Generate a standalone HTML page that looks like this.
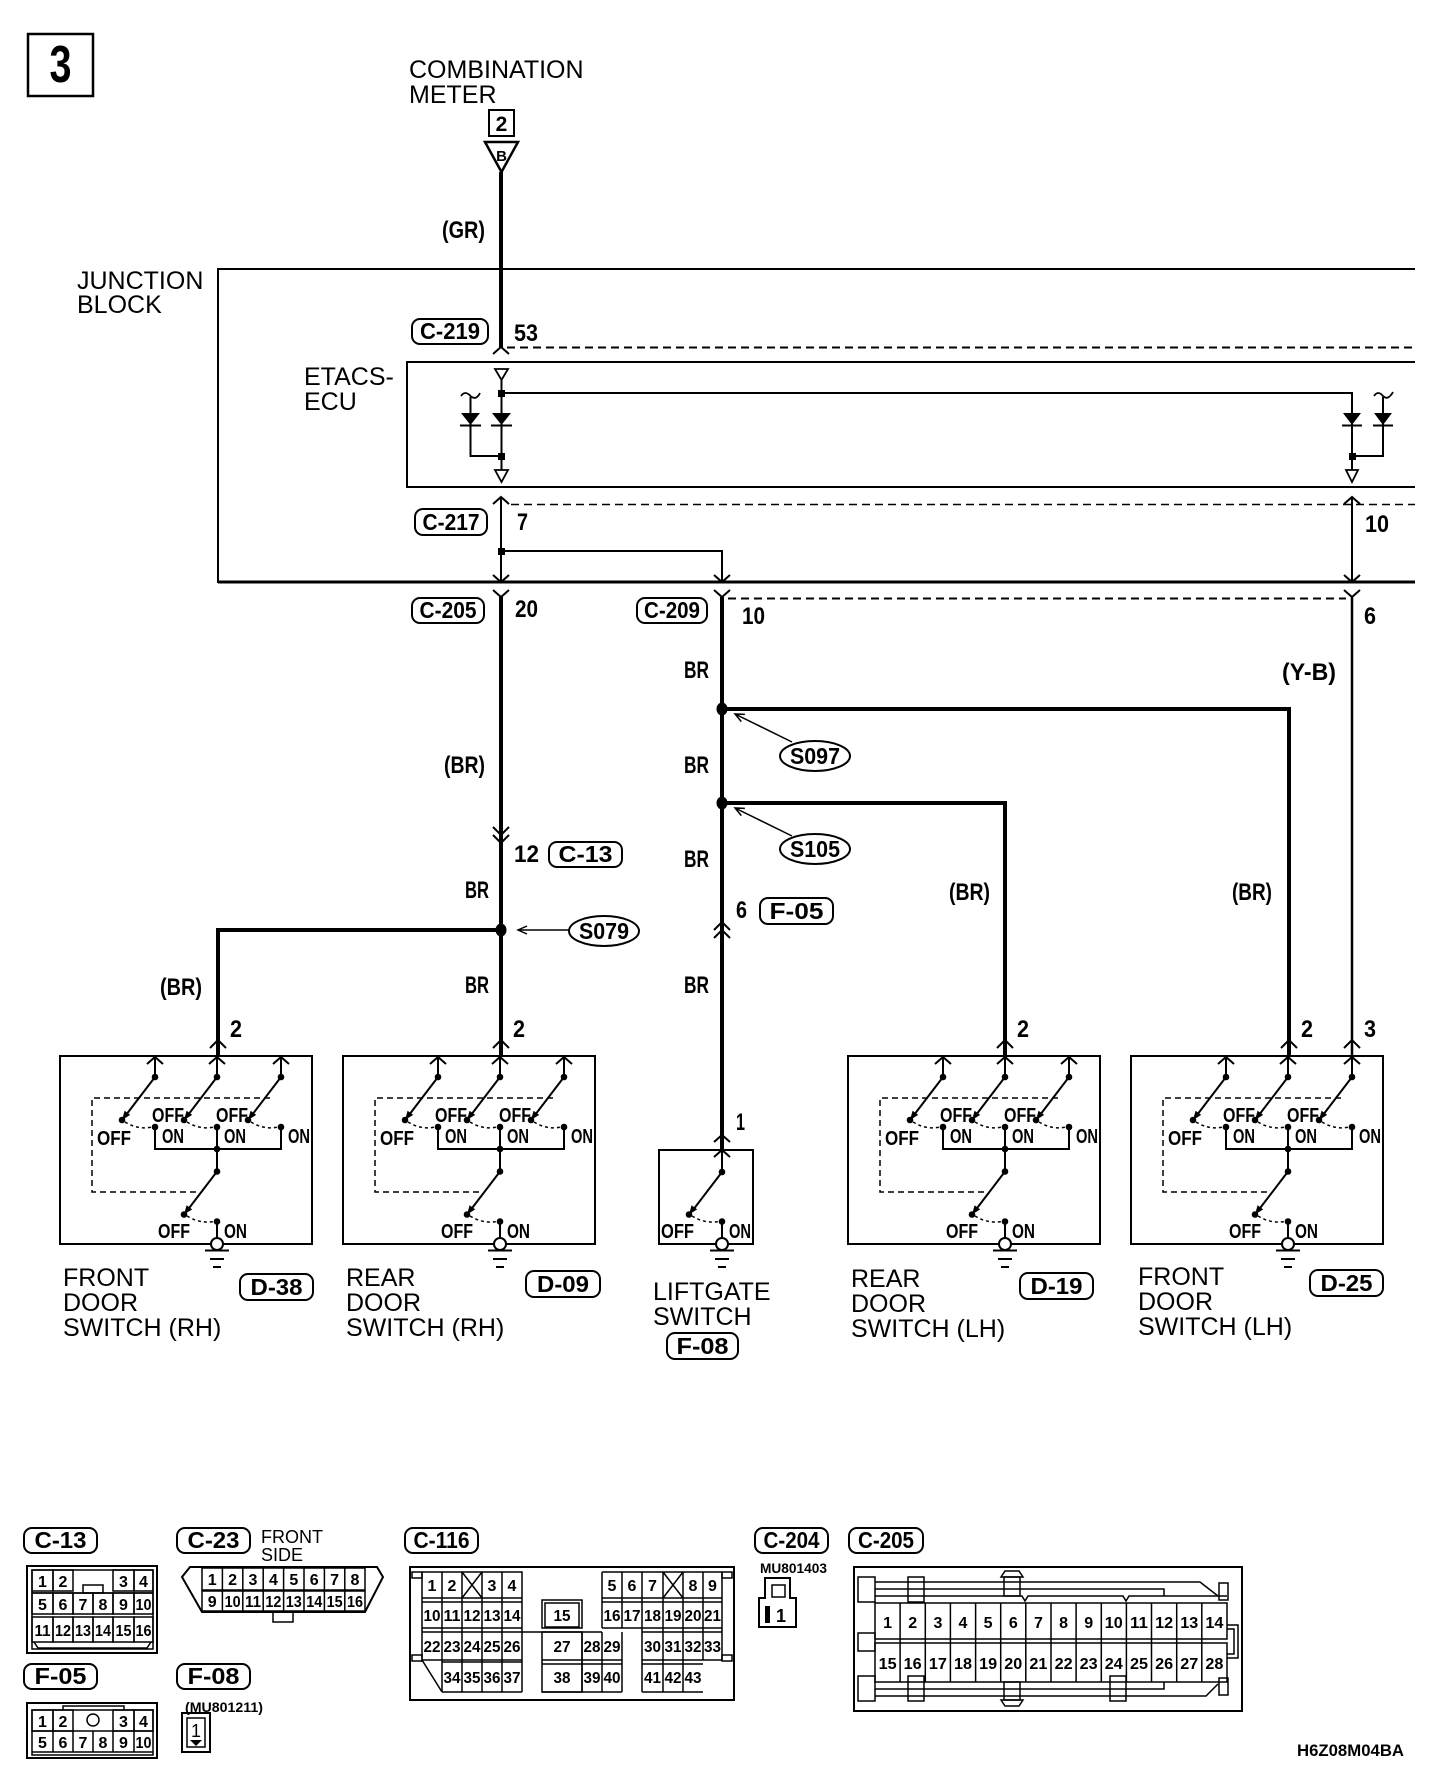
<!DOCTYPE html>
<html><head><meta charset="utf-8">
<style>
html,body{margin:0;padding:0;background:#fff;}
svg{display:block;}
text{font-family:"Liberation Sans",Arial,sans-serif;fill:#000;}
.r{font-size:25px;}
.b{font-weight:bold;font-size:24px;}
.p{font-weight:bold;font-size:23px;}
.sw{font-weight:bold;font-size:20px;}
.n{font-weight:bold;font-size:16px;}
.s{stroke:#000;fill:none;}
</style></head>
<body>
<svg width="1440" height="1778" viewBox="0 0 1440 1778" xmlns="http://www.w3.org/2000/svg">
<rect x="0" y="0" width="1440" height="1778" fill="#fff"/>

<!-- Title box -->
<rect x="28" y="34" width="65" height="62" class="s" stroke-width="2.5"/>
<text x="60.5" y="82" font-size="52" font-weight="bold" text-anchor="middle" textLength="22" lengthAdjust="spacingAndGlyphs">3</text>

<!-- Combination meter -->
<text class="r" x="409" y="78">COMBINATION</text>
<text class="r" x="409" y="103">METER</text>
<rect x="489" y="110" width="25" height="26" class="s" stroke-width="2"/>
<text x="501.5" y="131" font-size="21" font-weight="bold" text-anchor="middle">2</text>
<polygon points="485,142 518,142 501.5,172" fill="#fff" stroke="#000" stroke-width="2.5"/>
<text x="501.5" y="161" font-size="15" font-weight="bold" text-anchor="middle">B</text>
<line x1="501" y1="172" x2="501" y2="348" stroke="#000" stroke-width="4"/>
<text class="b" x="442" y="238" textLength="43" lengthAdjust="spacingAndGlyphs">(GR)</text>

<!-- Junction block -->
<text class="r" x="77" y="289">JUNCTION</text>
<text class="r" x="77" y="313">BLOCK</text>
<path d="M1415,269 H218 V582 H1415" class="s" stroke-width="2"/>
<line x1="218" y1="582" x2="1415" y2="582" stroke="#000" stroke-width="3"/>

<!-- C-219 -->
<path d="M493,354 L501,347 L509,354" class="s" stroke-width="2"/>
<line x1="507" y1="347.5" x2="1415" y2="347.5" stroke="#000" stroke-width="2" stroke-dasharray="8 5"/>
<rect x="412" y="319" width="76" height="25" rx="8" class="s" stroke-width="2"/>
<text class="p" x="450" y="339" text-anchor="middle" textLength="60" lengthAdjust="spacingAndGlyphs">C-219</text>
<text class="b" x="514" y="341" textLength="24" lengthAdjust="spacingAndGlyphs">53</text>

<!-- ETACS-ECU -->
<text class="r" x="304" y="385">ETACS-</text>
<text class="r" x="304" y="410">ECU</text>
<path d="M1415,362 H407 V487 H1415" class="s" stroke-width="2"/>
<!-- left diode pair -->
<polygon points="495,369 508,369 501.5,380" fill="#fff" stroke="#000" stroke-width="1.8"/>
<path d="M501.5,380 V470 M501.5,393 H1352 V470 M470.5,397 V456 H501.5" class="s" stroke-width="2"/>
<path d="M461,396 Q465,390 470.5,396 Q476,401 480,393" class="s" stroke-width="1.8"/>
<polygon points="492,413 511,413 501.5,425" fill="#000"/>
<line x1="491" y1="425.5" x2="512" y2="425.5" stroke="#000" stroke-width="2"/>
<polygon points="461,413 480,413 470.5,425" fill="#000"/>
<line x1="460" y1="425.5" x2="481" y2="425.5" stroke="#000" stroke-width="2"/>
<rect x="498" y="390" width="7" height="7" fill="#000"/>
<rect x="498" y="453" width="7" height="7" fill="#000"/>
<polygon points="495,470 508,470 501.5,482" fill="#fff" stroke="#000" stroke-width="1.8"/>
<!-- right diode pair -->
<path d="M1383,397 V456 H1352" class="s" stroke-width="2"/>
<path d="M1374,396 Q1378,390 1383,396 Q1388,401 1393,392" class="s" stroke-width="1.8"/>
<polygon points="1343,413 1361,413 1352,425" fill="#000"/>
<line x1="1342" y1="425.5" x2="1362" y2="425.5" stroke="#000" stroke-width="2"/>
<polygon points="1374,413 1392,413 1383,425" fill="#000"/>
<line x1="1373" y1="425.5" x2="1393" y2="425.5" stroke="#000" stroke-width="2"/>
<rect x="1349" y="453" width="7" height="7" fill="#000"/>
<polygon points="1346,470 1358,470 1352,482" fill="#fff" stroke="#000" stroke-width="1.8"/>

<!-- C-217 -->
<path d="M493,504 L501,497 L509,504 M1344,504 L1352,497 L1360,504" class="s" stroke-width="2"/>
<line x1="511" y1="504.5" x2="1415" y2="504.5" stroke="#000" stroke-width="1.6" stroke-dasharray="8 5"/>
<path d="M501,497 V582 M1352,497 V582 M501,551 H722 V582" class="s" stroke-width="2"/>
<rect x="498" y="548" width="7" height="7" fill="#000"/>
<rect x="415" y="509" width="72" height="26" rx="8" class="s" stroke-width="2"/>
<text class="p" x="451" y="530" text-anchor="middle" textLength="57" lengthAdjust="spacingAndGlyphs">C-217</text>
<text class="b" x="517" y="530" textLength="11" lengthAdjust="spacingAndGlyphs">7</text>
<text class="b" x="1365" y="532" textLength="24" lengthAdjust="spacingAndGlyphs">10</text>

<!-- JB bottom crossings -->
<path d="M493,575 L501,582 L509,575 M493,590 L501,597 L509,590
M714,575 L722,582 L730,575 M714,590 L722,597 L730,590
M1344,575 L1352,582 L1360,575 M1344,590 L1352,597 L1360,590" class="s" stroke-width="2"/>
<line x1="728" y1="598.5" x2="1346" y2="598.5" stroke="#000" stroke-width="2" stroke-dasharray="8 5"/>
<rect x="412" y="598" width="72" height="25" rx="8" class="s" stroke-width="2"/>
<text class="p" x="448" y="618" text-anchor="middle" textLength="57" lengthAdjust="spacingAndGlyphs">C-205</text>
<text class="b" x="515" y="617" textLength="23" lengthAdjust="spacingAndGlyphs">20</text>
<rect x="637" y="598" width="70" height="25" rx="8" class="s" stroke-width="2"/>
<text class="p" x="672" y="618" text-anchor="middle" textLength="56" lengthAdjust="spacingAndGlyphs">C-209</text>
<text class="b" x="742" y="624" textLength="23" lengthAdjust="spacingAndGlyphs">10</text>
<text class="b" x="1364" y="624" textLength="12" lengthAdjust="spacingAndGlyphs">6</text>

<!-- Wires outside JB -->
<path d="M501,597 V1056 M722,597 V1150 M501,930 H218 V1056 M722,709 H1289 V1056 M722,803 H1005 V1056" class="s" stroke-width="4"/>
<line x1="1352" y1="597" x2="1352" y2="1056" stroke="#000" stroke-width="2.5"/>

<!-- C-13 inline connector -->
<path d="M493,827 L501,835 L509,827 M493,835 L501,843 L509,835" class="s" stroke-width="2"/>
<text class="b" x="514" y="862" textLength="25" lengthAdjust="spacingAndGlyphs">12</text>
<rect x="549" y="842" width="73" height="25" rx="8" class="s" stroke-width="2"/>
<text class="p" x="585.5" y="862" text-anchor="middle" textLength="54" lengthAdjust="spacingAndGlyphs">C-13</text>

<!-- F-05 inline connector -->
<path d="M714,930 L722,922 L730,930 M714,938 L722,930 L730,938" class="s" stroke-width="2"/>
<text class="b" x="736" y="918" textLength="11" lengthAdjust="spacingAndGlyphs">6</text>
<rect x="760" y="898" width="73" height="26" rx="8" class="s" stroke-width="2"/>
<text class="p" x="796.5" y="919" text-anchor="middle" textLength="54" lengthAdjust="spacingAndGlyphs">F-05</text>

<!-- Splices -->
<ellipse cx="501" cy="930" rx="5.5" ry="6.5" fill="#000"/>
<ellipse cx="722" cy="709" rx="5.5" ry="6.5" fill="#000"/>
<ellipse cx="722" cy="803" rx="5.5" ry="6.5" fill="#000"/>
<path d="M569,930 H518 M527,926 L518,930 L527,934" class="s" stroke-width="1.5"/>
<ellipse cx="604" cy="931" rx="35" ry="15" class="s" stroke-width="2"/>
<text class="p" x="604" y="939" text-anchor="middle" textLength="50" lengthAdjust="spacingAndGlyphs">S079</text>
<path d="M792,742 L735,714 M744.9,714.4 L735,714 L741.3,721.6" class="s" stroke-width="1.5"/>
<ellipse cx="815" cy="756" rx="35" ry="15" class="s" stroke-width="2"/>
<text class="p" x="815" y="764" text-anchor="middle" textLength="50" lengthAdjust="spacingAndGlyphs">S097</text>
<path d="M792,836 L735,808 M744.9,808.4 L735,808 L741.3,815.6" class="s" stroke-width="1.5"/>
<ellipse cx="815" cy="849" rx="35" ry="15" class="s" stroke-width="2"/>
<text class="p" x="815" y="857" text-anchor="middle" textLength="50" lengthAdjust="spacingAndGlyphs">S105</text>

<!-- Wire colour labels -->
<text class="b" x="444" y="773" textLength="41" lengthAdjust="spacingAndGlyphs">(BR)</text>
<text class="b" x="465" y="898" textLength="24" lengthAdjust="spacingAndGlyphs">BR</text>
<text class="b" x="465" y="993" textLength="24" lengthAdjust="spacingAndGlyphs">BR</text>
<text class="b" x="160" y="995" textLength="42" lengthAdjust="spacingAndGlyphs">(BR)</text>
<text class="b" x="684" y="678" textLength="25" lengthAdjust="spacingAndGlyphs">BR</text>
<text class="b" x="684" y="773" textLength="25" lengthAdjust="spacingAndGlyphs">BR</text>
<text class="b" x="684" y="867" textLength="25" lengthAdjust="spacingAndGlyphs">BR</text>
<text class="b" x="684" y="993" textLength="25" lengthAdjust="spacingAndGlyphs">BR</text>
<text class="b" x="1282" y="680" textLength="54" lengthAdjust="spacingAndGlyphs">(Y-B)</text>
<text class="b" x="949" y="900" textLength="41" lengthAdjust="spacingAndGlyphs">(BR)</text>
<text class="b" x="1232" y="900" textLength="40" lengthAdjust="spacingAndGlyphs">(BR)</text>

<!-- pin connector chevrons & numbers -->
<path d="M210,1048 L218,1040 L226,1048 M493,1048 L501,1040 L509,1048 M997,1048 L1005,1040 L1013,1048 M1281,1048 L1289,1040 L1297,1048 M1344,1048 L1352,1040 L1360,1048 M714,1142 L722,1135 L730,1142" class="s" stroke-width="2"/>
<text class="b" x="230" y="1037" textLength="12" lengthAdjust="spacingAndGlyphs">2</text>
<text class="b" x="513" y="1037" textLength="12" lengthAdjust="spacingAndGlyphs">2</text>
<text class="b" x="1017" y="1037" textLength="12" lengthAdjust="spacingAndGlyphs">2</text>
<text class="b" x="1301" y="1037" textLength="12" lengthAdjust="spacingAndGlyphs">2</text>
<text class="b" x="1364" y="1037" textLength="12" lengthAdjust="spacingAndGlyphs">3</text>
<text class="b" x="736" y="1130" textLength="9" lengthAdjust="spacingAndGlyphs">1</text>

<!-- Door switch box 1 (FRONT RH) -->
<g transform="translate(60,0)">
<rect x="0" y="1056" width="252" height="188" class="s" stroke-width="2"/>
<path d="M87,1064 L95,1057 L103,1064 M149,1064 L157,1057 L165,1064 M213,1064 L221,1057 L229,1064 M95,1056 V1077 M157,1056 V1077 M221,1056 V1077" class="s" stroke-width="2"/>
<path d="M95,1077 L66,1115 M157,1077 L128,1115 M221,1077 L192,1115 M157,1171.5 L128,1209.5" class="s" stroke-width="2"/>
<polygon points="62,1120 70.2,1114.9 64.6,1110.7"/><polygon points="124,1120 132.2,1114.9 126.6,1110.7"/><polygon points="188,1120 196.2,1114.9 190.6,1110.7"/><polygon points="124,1214.5 132.2,1209.4 126.6,1205.2"/>
<g fill="#000"><circle cx="95" cy="1077" r="3.3"/><circle cx="157" cy="1077" r="3.3"/><circle cx="221" cy="1077" r="3.3"/><circle cx="62" cy="1120" r="3.3"/><circle cx="124" cy="1120" r="3.3"/><circle cx="188" cy="1120" r="3.3"/><circle cx="95" cy="1127" r="3.3"/><circle cx="157" cy="1127" r="3.3"/><circle cx="221" cy="1127" r="3.3"/><circle cx="157" cy="1149" r="3.3"/><circle cx="157" cy="1171.5" r="3.3"/><circle cx="124" cy="1214.5" r="3.3"/><circle cx="157" cy="1221.5" r="3.3"/></g>
<path d="M65,1122 Q78,1130 92,1127 M127,1122 Q140,1130 154,1127 M191,1122 Q204,1130 218,1127 M127,1216 Q140,1224 154,1221.5" class="s" stroke-width="1.5" stroke-dasharray="3 3"/>
<path d="M95,1127 V1149 H221 V1127 M157,1127 V1171.5 M157,1221.5 V1238" class="s" stroke-width="2"/>
<path d="M210,1098 H32 V1192 H137" class="s" stroke-width="1.5" stroke-dasharray="6 4"/>
<text class="sw" x="37" y="1145" textLength="34" lengthAdjust="spacingAndGlyphs">OFF</text>
<text class="sw" x="92" y="1122" textLength="32" lengthAdjust="spacingAndGlyphs">OFF</text>
<text class="sw" x="156" y="1122" textLength="32" lengthAdjust="spacingAndGlyphs">OFF</text>
<text class="sw" x="102" y="1143" textLength="22" lengthAdjust="spacingAndGlyphs">ON</text>
<text class="sw" x="164" y="1143" textLength="22" lengthAdjust="spacingAndGlyphs">ON</text>
<text class="sw" x="228" y="1143" textLength="22" lengthAdjust="spacingAndGlyphs">ON</text>
<text class="sw" x="98" y="1238" textLength="32" lengthAdjust="spacingAndGlyphs">OFF</text>
<text class="sw" x="164" y="1238" textLength="23" lengthAdjust="spacingAndGlyphs">ON</text>
<circle cx="157" cy="1244" r="6" fill="#fff" stroke="#000" stroke-width="2"/>
<path d="M145,1250.5 H169 M150,1259 H164 M153,1267 H161" class="s" stroke-width="2"/>
</g>

<!-- Door switch box 2 (REAR RH) -->
<g transform="translate(343,0)">
<rect x="0" y="1056" width="252" height="188" class="s" stroke-width="2"/>
<path d="M87,1064 L95,1057 L103,1064 M149,1064 L157,1057 L165,1064 M213,1064 L221,1057 L229,1064 M95,1056 V1077 M157,1056 V1077 M221,1056 V1077" class="s" stroke-width="2"/>
<path d="M95,1077 L66,1115 M157,1077 L128,1115 M221,1077 L192,1115 M157,1171.5 L128,1209.5" class="s" stroke-width="2"/>
<polygon points="62,1120 70.2,1114.9 64.6,1110.7"/><polygon points="124,1120 132.2,1114.9 126.6,1110.7"/><polygon points="188,1120 196.2,1114.9 190.6,1110.7"/><polygon points="124,1214.5 132.2,1209.4 126.6,1205.2"/>
<g fill="#000"><circle cx="95" cy="1077" r="3.3"/><circle cx="157" cy="1077" r="3.3"/><circle cx="221" cy="1077" r="3.3"/><circle cx="62" cy="1120" r="3.3"/><circle cx="124" cy="1120" r="3.3"/><circle cx="188" cy="1120" r="3.3"/><circle cx="95" cy="1127" r="3.3"/><circle cx="157" cy="1127" r="3.3"/><circle cx="221" cy="1127" r="3.3"/><circle cx="157" cy="1149" r="3.3"/><circle cx="157" cy="1171.5" r="3.3"/><circle cx="124" cy="1214.5" r="3.3"/><circle cx="157" cy="1221.5" r="3.3"/></g>
<path d="M65,1122 Q78,1130 92,1127 M127,1122 Q140,1130 154,1127 M191,1122 Q204,1130 218,1127 M127,1216 Q140,1224 154,1221.5" class="s" stroke-width="1.5" stroke-dasharray="3 3"/>
<path d="M95,1127 V1149 H221 V1127 M157,1127 V1171.5 M157,1221.5 V1238" class="s" stroke-width="2"/>
<path d="M210,1098 H32 V1192 H137" class="s" stroke-width="1.5" stroke-dasharray="6 4"/>
<text class="sw" x="37" y="1145" textLength="34" lengthAdjust="spacingAndGlyphs">OFF</text>
<text class="sw" x="92" y="1122" textLength="32" lengthAdjust="spacingAndGlyphs">OFF</text>
<text class="sw" x="156" y="1122" textLength="32" lengthAdjust="spacingAndGlyphs">OFF</text>
<text class="sw" x="102" y="1143" textLength="22" lengthAdjust="spacingAndGlyphs">ON</text>
<text class="sw" x="164" y="1143" textLength="22" lengthAdjust="spacingAndGlyphs">ON</text>
<text class="sw" x="228" y="1143" textLength="22" lengthAdjust="spacingAndGlyphs">ON</text>
<text class="sw" x="98" y="1238" textLength="32" lengthAdjust="spacingAndGlyphs">OFF</text>
<text class="sw" x="164" y="1238" textLength="23" lengthAdjust="spacingAndGlyphs">ON</text>
<circle cx="157" cy="1244" r="6" fill="#fff" stroke="#000" stroke-width="2"/>
<path d="M145,1250.5 H169 M150,1259 H164 M153,1267 H161" class="s" stroke-width="2"/>
</g>

<!-- Door switch box 3 (REAR LH) -->
<g transform="translate(848,0)">
<rect x="0" y="1056" width="252" height="188" class="s" stroke-width="2"/>
<path d="M87,1064 L95,1057 L103,1064 M149,1064 L157,1057 L165,1064 M213,1064 L221,1057 L229,1064 M95,1056 V1077 M157,1056 V1077 M221,1056 V1077" class="s" stroke-width="2"/>
<path d="M95,1077 L66,1115 M157,1077 L128,1115 M221,1077 L192,1115 M157,1171.5 L128,1209.5" class="s" stroke-width="2"/>
<polygon points="62,1120 70.2,1114.9 64.6,1110.7"/><polygon points="124,1120 132.2,1114.9 126.6,1110.7"/><polygon points="188,1120 196.2,1114.9 190.6,1110.7"/><polygon points="124,1214.5 132.2,1209.4 126.6,1205.2"/>
<g fill="#000"><circle cx="95" cy="1077" r="3.3"/><circle cx="157" cy="1077" r="3.3"/><circle cx="221" cy="1077" r="3.3"/><circle cx="62" cy="1120" r="3.3"/><circle cx="124" cy="1120" r="3.3"/><circle cx="188" cy="1120" r="3.3"/><circle cx="95" cy="1127" r="3.3"/><circle cx="157" cy="1127" r="3.3"/><circle cx="221" cy="1127" r="3.3"/><circle cx="157" cy="1149" r="3.3"/><circle cx="157" cy="1171.5" r="3.3"/><circle cx="124" cy="1214.5" r="3.3"/><circle cx="157" cy="1221.5" r="3.3"/></g>
<path d="M65,1122 Q78,1130 92,1127 M127,1122 Q140,1130 154,1127 M191,1122 Q204,1130 218,1127 M127,1216 Q140,1224 154,1221.5" class="s" stroke-width="1.5" stroke-dasharray="3 3"/>
<path d="M95,1127 V1149 H221 V1127 M157,1127 V1171.5 M157,1221.5 V1238" class="s" stroke-width="2"/>
<path d="M210,1098 H32 V1192 H137" class="s" stroke-width="1.5" stroke-dasharray="6 4"/>
<text class="sw" x="37" y="1145" textLength="34" lengthAdjust="spacingAndGlyphs">OFF</text>
<text class="sw" x="92" y="1122" textLength="32" lengthAdjust="spacingAndGlyphs">OFF</text>
<text class="sw" x="156" y="1122" textLength="32" lengthAdjust="spacingAndGlyphs">OFF</text>
<text class="sw" x="102" y="1143" textLength="22" lengthAdjust="spacingAndGlyphs">ON</text>
<text class="sw" x="164" y="1143" textLength="22" lengthAdjust="spacingAndGlyphs">ON</text>
<text class="sw" x="228" y="1143" textLength="22" lengthAdjust="spacingAndGlyphs">ON</text>
<text class="sw" x="98" y="1238" textLength="32" lengthAdjust="spacingAndGlyphs">OFF</text>
<text class="sw" x="164" y="1238" textLength="23" lengthAdjust="spacingAndGlyphs">ON</text>
<circle cx="157" cy="1244" r="6" fill="#fff" stroke="#000" stroke-width="2"/>
<path d="M145,1250.5 H169 M150,1259 H164 M153,1267 H161" class="s" stroke-width="2"/>
</g>

<!-- Door switch box 4 (FRONT LH) -->
<g transform="translate(1131,0)">
<rect x="0" y="1056" width="252" height="188" class="s" stroke-width="2"/>
<path d="M87,1064 L95,1057 L103,1064 M149,1064 L157,1057 L165,1064 M213,1064 L221,1057 L229,1064 M95,1056 V1077 M157,1056 V1077 M221,1056 V1077" class="s" stroke-width="2"/>
<path d="M95,1077 L66,1115 M157,1077 L128,1115 M221,1077 L192,1115 M157,1171.5 L128,1209.5" class="s" stroke-width="2"/>
<polygon points="62,1120 70.2,1114.9 64.6,1110.7"/><polygon points="124,1120 132.2,1114.9 126.6,1110.7"/><polygon points="188,1120 196.2,1114.9 190.6,1110.7"/><polygon points="124,1214.5 132.2,1209.4 126.6,1205.2"/>
<g fill="#000"><circle cx="95" cy="1077" r="3.3"/><circle cx="157" cy="1077" r="3.3"/><circle cx="221" cy="1077" r="3.3"/><circle cx="62" cy="1120" r="3.3"/><circle cx="124" cy="1120" r="3.3"/><circle cx="188" cy="1120" r="3.3"/><circle cx="95" cy="1127" r="3.3"/><circle cx="157" cy="1127" r="3.3"/><circle cx="221" cy="1127" r="3.3"/><circle cx="157" cy="1149" r="3.3"/><circle cx="157" cy="1171.5" r="3.3"/><circle cx="124" cy="1214.5" r="3.3"/><circle cx="157" cy="1221.5" r="3.3"/></g>
<path d="M65,1122 Q78,1130 92,1127 M127,1122 Q140,1130 154,1127 M191,1122 Q204,1130 218,1127 M127,1216 Q140,1224 154,1221.5" class="s" stroke-width="1.5" stroke-dasharray="3 3"/>
<path d="M95,1127 V1149 H221 V1127 M157,1127 V1171.5 M157,1221.5 V1238" class="s" stroke-width="2"/>
<path d="M210,1098 H32 V1192 H137" class="s" stroke-width="1.5" stroke-dasharray="6 4"/>
<text class="sw" x="37" y="1145" textLength="34" lengthAdjust="spacingAndGlyphs">OFF</text>
<text class="sw" x="92" y="1122" textLength="32" lengthAdjust="spacingAndGlyphs">OFF</text>
<text class="sw" x="156" y="1122" textLength="32" lengthAdjust="spacingAndGlyphs">OFF</text>
<text class="sw" x="102" y="1143" textLength="22" lengthAdjust="spacingAndGlyphs">ON</text>
<text class="sw" x="164" y="1143" textLength="22" lengthAdjust="spacingAndGlyphs">ON</text>
<text class="sw" x="228" y="1143" textLength="22" lengthAdjust="spacingAndGlyphs">ON</text>
<text class="sw" x="98" y="1238" textLength="32" lengthAdjust="spacingAndGlyphs">OFF</text>
<text class="sw" x="164" y="1238" textLength="23" lengthAdjust="spacingAndGlyphs">ON</text>
<circle cx="157" cy="1244" r="6" fill="#fff" stroke="#000" stroke-width="2"/>
<path d="M145,1250.5 H169 M150,1259 H164 M153,1267 H161" class="s" stroke-width="2"/>
</g>

<!-- Liftgate switch -->
<g transform="translate(659,0)">
<rect x="0" y="1150" width="94" height="94" class="s" stroke-width="2"/>
<path d="M55,1157 L63,1150 L71,1157 M63,1150 V1172 M63,1172 L34,1210 M63,1221.5 V1238" class="s" stroke-width="2"/>
<polygon points="30,1214.5 38.2,1209.4 32.6,1205.2"/>
<circle cx="63" cy="1172" r="3.3"/><circle cx="30" cy="1214.5" r="3.3"/><circle cx="63" cy="1221.5" r="3.3"/>
<path d="M33,1216 Q46,1224 60,1221.5" class="s" stroke-width="1.5" stroke-dasharray="3 3"/>
<text class="sw" x="2" y="1238" textLength="33" lengthAdjust="spacingAndGlyphs">OFF</text>
<text class="sw" x="70" y="1238" textLength="22" lengthAdjust="spacingAndGlyphs">ON</text>
<circle cx="63" cy="1244" r="6" fill="#fff" stroke="#000" stroke-width="2"/>
<path d="M51,1250.5 H75 M56,1259 H70 M59,1267 H67" class="s" stroke-width="2"/>
</g>

<!-- Component labels -->
<text class="r" x="63" y="1286">FRONT</text>
<text class="r" x="63" y="1311">DOOR</text>
<text class="r" x="63" y="1336">SWITCH (RH)</text>
<rect x="240" y="1274" width="73" height="26" rx="8" class="s" stroke-width="2"/>
<text class="p" x="276.5" y="1295" text-anchor="middle" textLength="52" lengthAdjust="spacingAndGlyphs">D-38</text>

<text class="r" x="346" y="1286">REAR</text>
<text class="r" x="346" y="1311">DOOR</text>
<text class="r" x="346" y="1336">SWITCH (RH)</text>
<rect x="526" y="1271" width="74" height="26" rx="8" class="s" stroke-width="2"/>
<text class="p" x="563" y="1292" text-anchor="middle" textLength="52" lengthAdjust="spacingAndGlyphs">D-09</text>

<text class="r" x="653" y="1300">LIFTGATE</text>
<text class="r" x="653" y="1325">SWITCH</text>
<rect x="667" y="1333" width="71" height="26" rx="8" class="s" stroke-width="2"/>
<text class="p" x="702.5" y="1354" text-anchor="middle" textLength="52" lengthAdjust="spacingAndGlyphs">F-08</text>

<text class="r" x="851" y="1287">REAR</text>
<text class="r" x="851" y="1312">DOOR</text>
<text class="r" x="851" y="1337">SWITCH (LH)</text>
<rect x="1020" y="1273" width="73" height="26" rx="8" class="s" stroke-width="2"/>
<text class="p" x="1056.5" y="1294" text-anchor="middle" textLength="52" lengthAdjust="spacingAndGlyphs">D-19</text>

<text class="r" x="1138" y="1285">FRONT</text>
<text class="r" x="1138" y="1310">DOOR</text>
<text class="r" x="1138" y="1335">SWITCH (LH)</text>
<rect x="1310" y="1270" width="73" height="26" rx="8" class="s" stroke-width="2"/>
<text class="p" x="1346.5" y="1291" text-anchor="middle" textLength="52" lengthAdjust="spacingAndGlyphs">D-25</text>

<!-- ===== Connector diagrams ===== -->
<!-- C-13 -->
<rect x="24" y="1528" width="73" height="25" rx="8" class="s" stroke-width="2"/>
<text class="p" x="60.5" y="1548" text-anchor="middle" textLength="52" lengthAdjust="spacingAndGlyphs">C-13</text>
<rect x="27" y="1566" width="130" height="87" class="s" stroke-width="2"/>
<g class="s" stroke-width="1.5">
<rect x="32" y="1570" width="121" height="79"/>
<rect x="32" y="1570" width="21" height="21"/><rect x="53" y="1570" width="20" height="21"/>
<rect x="113" y="1570" width="21" height="21"/><rect x="134" y="1570" width="19" height="21"/>
<rect x="83" y="1585" width="20" height="8"/>
<line x1="32" y1="1593" x2="153" y2="1593"/>
<rect x="32" y="1593" width="21" height="21"/><rect x="53" y="1593" width="20" height="21"/><rect x="73" y="1593" width="20" height="21"/><rect x="93" y="1593" width="20" height="21"/><rect x="113" y="1593" width="21" height="21"/><rect x="134" y="1593" width="19" height="21"/>
<rect x="32" y="1617" width="21" height="25"/><rect x="53" y="1617" width="20" height="25"/><rect x="73" y="1617" width="20" height="25"/><rect x="93" y="1617" width="20" height="25"/><rect x="113" y="1617" width="21" height="25"/><rect x="134" y="1617" width="19" height="25"/>
<path d="M34,1642 L38,1648 H147 L151,1642"/>
</g>
<g class="n" text-anchor="middle">
<text x="42.5" y="1587">1</text><text x="63" y="1587">2</text><text x="123.5" y="1587">3</text><text x="143.5" y="1587">4</text>
<text x="42.5" y="1610">5</text><text x="63" y="1610">6</text><text x="83" y="1610">7</text><text x="103" y="1610">8</text><text x="123.5" y="1610">9</text><text x="143.5" y="1610" textLength="16" lengthAdjust="spacingAndGlyphs">10</text>
<text x="42.5" y="1636" textLength="16" lengthAdjust="spacingAndGlyphs">11</text><text x="63" y="1636" textLength="16" lengthAdjust="spacingAndGlyphs">12</text><text x="83" y="1636" textLength="16" lengthAdjust="spacingAndGlyphs">13</text><text x="103" y="1636" textLength="16" lengthAdjust="spacingAndGlyphs">14</text><text x="123.5" y="1636" textLength="16" lengthAdjust="spacingAndGlyphs">15</text><text x="143.5" y="1636" textLength="16" lengthAdjust="spacingAndGlyphs">16</text>
</g>

<!-- C-23 -->
<rect x="177" y="1528" width="73" height="25" rx="8" class="s" stroke-width="2"/>
<text class="p" x="213.5" y="1548" text-anchor="middle" textLength="52" lengthAdjust="spacingAndGlyphs">C-23</text>
<text x="261" y="1543" font-size="18">FRONT</text>
<text x="261" y="1561" font-size="18">SIDE</text>
<path d="M190,1567 H377 L383,1577 L365,1612 H202 L182,1577 Z" class="s" stroke-width="2"/>
<rect x="273" y="1612" width="20" height="10" class="s" stroke-width="1.5"/>
<g class="s" stroke-width="1.5">
<rect x="202" y="1568" width="163" height="22"/><rect x="202" y="1591" width="163" height="20"/>
<path d="M222.4,1568 V1611 M242.8,1568 V1611 M263.2,1568 V1611 M283.6,1568 V1611 M304,1568 V1611 M324.4,1568 V1611 M344.8,1568 V1611"/>
</g>
<g class="n" text-anchor="middle">
<text x="212.2" y="1585">1</text><text x="232.6" y="1585">2</text><text x="253" y="1585">3</text><text x="273.4" y="1585">4</text><text x="293.8" y="1585">5</text><text x="314.2" y="1585">6</text><text x="334.6" y="1585">7</text><text x="355" y="1585">8</text>
<text x="212.2" y="1607">9</text><text x="232.6" y="1607" textLength="16" lengthAdjust="spacingAndGlyphs">10</text><text x="253" y="1607" textLength="16" lengthAdjust="spacingAndGlyphs">11</text><text x="273.4" y="1607" textLength="16" lengthAdjust="spacingAndGlyphs">12</text><text x="293.8" y="1607" textLength="16" lengthAdjust="spacingAndGlyphs">13</text><text x="314.2" y="1607" textLength="16" lengthAdjust="spacingAndGlyphs">14</text><text x="334.6" y="1607" textLength="16" lengthAdjust="spacingAndGlyphs">15</text><text x="355" y="1607" textLength="16" lengthAdjust="spacingAndGlyphs">16</text>
</g>

<!-- F-05 -->
<rect x="24" y="1664" width="73" height="25" rx="8" class="s" stroke-width="2"/>
<text class="p" x="60.5" y="1684" text-anchor="middle" textLength="52" lengthAdjust="spacingAndGlyphs">F-05</text>
<rect x="27" y="1703" width="130" height="55" class="s" stroke-width="2"/>
<g class="s" stroke-width="1.5">
<path d="M63,1710 V1706 H124 V1710"/>
<rect x="32" y="1710" width="121" height="45"/>
<rect x="32" y="1710" width="21" height="21"/><rect x="53" y="1710" width="20" height="21"/><rect x="113" y="1710" width="21" height="21"/><rect x="134" y="1710" width="19" height="21"/>
<circle cx="93" cy="1720" r="6"/>
<path d="M32,1731 H153 M73,1731 V1752 M93,1731 V1752 M113,1731 V1752 M134,1731 V1752 M53,1731 V1752 M32,1752 H153"/>
</g>
<g class="n" text-anchor="middle">
<text x="42.5" y="1727">1</text><text x="63" y="1727">2</text><text x="123.5" y="1727">3</text><text x="143.5" y="1727">4</text>
<text x="42.5" y="1748">5</text><text x="63" y="1748">6</text><text x="83" y="1748">7</text><text x="103" y="1748">8</text><text x="123.5" y="1748">9</text><text x="143.5" y="1748" textLength="16" lengthAdjust="spacingAndGlyphs">10</text>
</g>

<!-- F-08 -->
<rect x="177" y="1664" width="73" height="25" rx="8" class="s" stroke-width="2"/>
<text class="p" x="213.5" y="1684" text-anchor="middle" textLength="52" lengthAdjust="spacingAndGlyphs">F-08</text>
<text x="185" y="1712" font-size="14" font-weight="bold" textLength="78" lengthAdjust="spacingAndGlyphs">(MU801211)</text>
<rect x="182" y="1713" width="28" height="39" class="s" stroke-width="2"/>
<rect x="187" y="1718" width="18" height="29" class="s" stroke-width="1.5"/>
<text x="196" y="1737" font-size="18" text-anchor="middle">1</text>
<polygon points="190,1740 202,1740 196,1746"/>

<!-- C-116 -->
<rect x="405" y="1528" width="73" height="25" rx="8" class="s" stroke-width="2"/>
<text class="p" x="441.5" y="1548" text-anchor="middle" textLength="56" lengthAdjust="spacingAndGlyphs">C-116</text>
<rect x="410" y="1567" width="324" height="133" class="s" stroke-width="2"/>
<g class="s" stroke-width="1.5">
<rect x="412" y="1572" width="10" height="6"/><rect x="412" y="1655" width="10" height="6"/>
<rect x="722" y="1572" width="10" height="6"/><rect x="722" y="1655" width="10" height="6"/>
<!-- left block -->
<path d="M422,1572 H522 V1692 M422,1572 V1662 M442,1572 V1692 M462,1572 V1692 M482,1572 V1692 M502,1572 V1692"/>
<path d="M422,1598 H522 M422,1602 H522 M422,1628 H522 M422,1632 H602 M422,1660 H522 M442,1662 H522 M442,1692 H522"/>
<path d="M462,1572 L482,1598 M482,1572 L462,1598 M422,1660 L442,1692"/>
<!-- middle -->
<rect x="542" y="1600" width="40" height="28"/><rect x="545" y="1603" width="34" height="24"/>
<rect x="542" y="1632" width="40" height="60"/>
<path d="M542,1660 H622 M582,1632 V1692 M602,1632 V1692 M622,1632 V1692 M542,1692 H622 M542,1664 H622"/>
<!-- right block -->
<path d="M602,1572 H722 M602,1572 V1628 M622,1572 V1628 M642,1572 V1692 M663,1572 V1692 M683,1572 V1692 M703,1572 V1660 M722,1572 V1660"/>
<path d="M602,1598 H722 M602,1602 H722 M602,1628 H722 M642,1632 H722 M642,1660 H722 M642,1664 H703 M642,1692 H703"/>
<path d="M663,1572 L683,1598 M683,1572 L663,1598"/>
</g>
<g class="n" text-anchor="middle">
<text x="432" y="1591">1</text><text x="452" y="1591">2</text><text x="492" y="1591">3</text><text x="512" y="1591">4</text>
<text x="612" y="1591">5</text><text x="632" y="1591">6</text><text x="652.5" y="1591">7</text><text x="693" y="1591">8</text><text x="712.5" y="1591">9</text>
<text x="432" y="1621" textLength="17" lengthAdjust="spacingAndGlyphs">10</text><text x="452" y="1621" textLength="17" lengthAdjust="spacingAndGlyphs">11</text><text x="472" y="1621" textLength="17" lengthAdjust="spacingAndGlyphs">12</text><text x="492" y="1621" textLength="17" lengthAdjust="spacingAndGlyphs">13</text><text x="512" y="1621" textLength="17" lengthAdjust="spacingAndGlyphs">14</text>
<text x="562" y="1621" textLength="17" lengthAdjust="spacingAndGlyphs">15</text>
<text x="612" y="1621" textLength="17" lengthAdjust="spacingAndGlyphs">16</text><text x="632" y="1621" textLength="17" lengthAdjust="spacingAndGlyphs">17</text><text x="652.5" y="1621" textLength="17" lengthAdjust="spacingAndGlyphs">18</text><text x="673" y="1621" textLength="17" lengthAdjust="spacingAndGlyphs">19</text><text x="693" y="1621" textLength="17" lengthAdjust="spacingAndGlyphs">20</text><text x="712.5" y="1621" textLength="17" lengthAdjust="spacingAndGlyphs">21</text>
<text x="432" y="1652" textLength="17" lengthAdjust="spacingAndGlyphs">22</text><text x="452" y="1652" textLength="17" lengthAdjust="spacingAndGlyphs">23</text><text x="472" y="1652" textLength="17" lengthAdjust="spacingAndGlyphs">24</text><text x="492" y="1652" textLength="17" lengthAdjust="spacingAndGlyphs">25</text><text x="512" y="1652" textLength="17" lengthAdjust="spacingAndGlyphs">26</text>
<text x="562" y="1652" textLength="17" lengthAdjust="spacingAndGlyphs">27</text><text x="592" y="1652" textLength="17" lengthAdjust="spacingAndGlyphs">28</text><text x="612" y="1652" textLength="17" lengthAdjust="spacingAndGlyphs">29</text>
<text x="652.5" y="1652" textLength="17" lengthAdjust="spacingAndGlyphs">30</text><text x="673" y="1652" textLength="17" lengthAdjust="spacingAndGlyphs">31</text><text x="693" y="1652" textLength="17" lengthAdjust="spacingAndGlyphs">32</text><text x="712.5" y="1652" textLength="17" lengthAdjust="spacingAndGlyphs">33</text>
<text x="452" y="1683" textLength="17" lengthAdjust="spacingAndGlyphs">34</text><text x="472" y="1683" textLength="17" lengthAdjust="spacingAndGlyphs">35</text><text x="492" y="1683" textLength="17" lengthAdjust="spacingAndGlyphs">36</text><text x="512" y="1683" textLength="17" lengthAdjust="spacingAndGlyphs">37</text>
<text x="562" y="1683" textLength="17" lengthAdjust="spacingAndGlyphs">38</text><text x="592" y="1683" textLength="17" lengthAdjust="spacingAndGlyphs">39</text><text x="612" y="1683" textLength="17" lengthAdjust="spacingAndGlyphs">40</text>
<text x="652.5" y="1683" textLength="17" lengthAdjust="spacingAndGlyphs">41</text><text x="673" y="1683" textLength="17" lengthAdjust="spacingAndGlyphs">42</text><text x="693" y="1683" textLength="17" lengthAdjust="spacingAndGlyphs">43</text>
</g>

<!-- C-204 -->
<rect x="755" y="1528" width="73" height="25" rx="8" class="s" stroke-width="2"/>
<text class="p" x="791.5" y="1548" text-anchor="middle" textLength="56" lengthAdjust="spacingAndGlyphs">C-204</text>
<text x="760" y="1573" font-size="14" font-weight="bold" textLength="67" lengthAdjust="spacingAndGlyphs">MU801403</text>
<path d="M765,1598 V1578 H790 V1598 H796 V1627 H759 V1598 Z" class="s" stroke-width="2"/>
<rect x="772" y="1585" width="13" height="12" class="s" stroke-width="1.5"/>
<rect x="765" y="1606" width="5" height="17" fill="#000"/>
<text x="781" y="1622" font-size="18" font-weight="bold" text-anchor="middle">1</text>

<!-- C-205 -->
<rect x="849" y="1528" width="74" height="25" rx="8" class="s" stroke-width="2"/>
<text class="p" x="886" y="1548" text-anchor="middle" textLength="56" lengthAdjust="spacingAndGlyphs">C-205</text>
<rect x="854" y="1567" width="388" height="144" class="s" stroke-width="2"/>
<g class="s" stroke-width="1.5">
<rect x="858" y="1577" width="17" height="25"/><rect x="858" y="1633" width="17" height="18"/><rect x="858" y="1676" width="17" height="25"/>
<rect x="908" y="1577" width="16" height="25"/><rect x="908" y="1676" width="16" height="25"/><rect x="1110" y="1676" width="16" height="25"/>
<path d="M875,1582 H1200 L1218,1596 M875,1589 H1164 V1596"/>
<path d="M875,1596 H1022 L1025,1601 L1028,1596 H1123 L1126,1601 L1129,1596 H1227"/>
<path d="M1001,1577 L1005,1571 H1019 L1023,1577 Z"/><rect x="1004" y="1577" width="16" height="19"/>
<path d="M875,1696 H1206 L1218,1684 M875,1689 H1164 V1682"/>
<rect x="1004" y="1682" width="16" height="18"/><path d="M1001,1700 L1005,1706 H1019 L1023,1700 Z"/>
<rect x="1219" y="1583" width="9" height="17"/><rect x="1219" y="1678" width="9" height="17"/>
<path d="M1227,1625 H1238 V1658 H1227 M1227,1629 H1234 V1654 H1227"/>
<rect x="875" y="1603" width="352" height="36"/><rect x="875" y="1643" width="352" height="39"/>
<path d="M900.1,1603 V1682 M925.3,1603 V1682 M950.4,1603 V1682 M975.6,1603 V1682 M1000.7,1603 V1682 M1025.8,1603 V1682 M1051,1603 V1682 M1076.1,1603 V1682 M1101.3,1603 V1682 M1126.4,1603 V1682 M1151.5,1603 V1682 M1176.7,1603 V1682 M1201.8,1603 V1682"/>
</g>
<g class="n" text-anchor="middle" font-size="17">
<text x="887.6" y="1628">1</text><text x="912.7" y="1628">2</text><text x="937.9" y="1628">3</text><text x="963" y="1628">4</text><text x="988.1" y="1628">5</text><text x="1013.3" y="1628">6</text><text x="1038.4" y="1628">7</text><text x="1063.6" y="1628">8</text><text x="1088.7" y="1628">9</text><text x="1113.8" y="1628" textLength="18" lengthAdjust="spacingAndGlyphs">10</text><text x="1139" y="1628" textLength="18" lengthAdjust="spacingAndGlyphs">11</text><text x="1164.1" y="1628" textLength="18" lengthAdjust="spacingAndGlyphs">12</text><text x="1189.3" y="1628" textLength="18" lengthAdjust="spacingAndGlyphs">13</text><text x="1214.4" y="1628" textLength="18" lengthAdjust="spacingAndGlyphs">14</text>
<text x="887.6" y="1669" textLength="18" lengthAdjust="spacingAndGlyphs">15</text><text x="912.7" y="1669" textLength="18" lengthAdjust="spacingAndGlyphs">16</text><text x="937.9" y="1669" textLength="18" lengthAdjust="spacingAndGlyphs">17</text><text x="963" y="1669" textLength="18" lengthAdjust="spacingAndGlyphs">18</text><text x="988.1" y="1669" textLength="18" lengthAdjust="spacingAndGlyphs">19</text><text x="1013.3" y="1669" textLength="18" lengthAdjust="spacingAndGlyphs">20</text><text x="1038.4" y="1669" textLength="18" lengthAdjust="spacingAndGlyphs">21</text><text x="1063.6" y="1669" textLength="18" lengthAdjust="spacingAndGlyphs">22</text><text x="1088.7" y="1669" textLength="18" lengthAdjust="spacingAndGlyphs">23</text><text x="1113.8" y="1669" textLength="18" lengthAdjust="spacingAndGlyphs">24</text><text x="1139" y="1669" textLength="18" lengthAdjust="spacingAndGlyphs">25</text><text x="1164.1" y="1669" textLength="18" lengthAdjust="spacingAndGlyphs">26</text><text x="1189.3" y="1669" textLength="18" lengthAdjust="spacingAndGlyphs">27</text><text x="1214.4" y="1669" textLength="18" lengthAdjust="spacingAndGlyphs">28</text>
</g>

<text x="1297" y="1756" font-size="17" font-weight="bold" textLength="107" lengthAdjust="spacingAndGlyphs">H6Z08M04BA</text>
</svg>
</body></html>
